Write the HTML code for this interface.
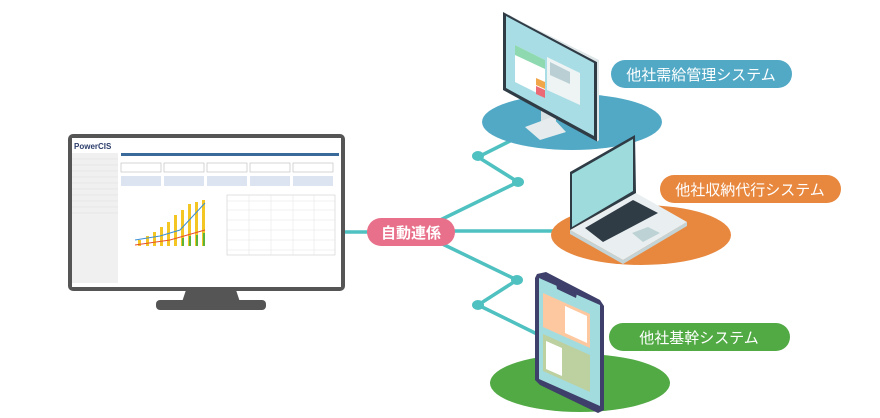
<!DOCTYPE html>
<html><head><meta charset="utf-8"><style>
html,body{margin:0;padding:0;background:#fff;width:880px;height:418px;overflow:hidden}
svg{display:block}
text{font-family:"Liberation Sans","Noto Sans CJK JP",sans-serif}
</style></head><body>
<svg width="880" height="418" viewBox="0 0 880 418" xmlns="http://www.w3.org/2000/svg">
<g stroke="#4fc1c0" stroke-width="3.5" fill="none" stroke-linecap="round">
<line x1="345" y1="232" x2="380" y2="232"/>
<polyline points="430,225 518,182 478,157 510,141"/>
<line x1="430" y1="231" x2="556" y2="231"/>
<polyline points="430,238 517,280 478,305 535,333"/>
</g>
<g fill="#4fc1c0">
<ellipse cx="518" cy="182" rx="6" ry="5"/><ellipse cx="478" cy="156" rx="6" ry="5"/>
<ellipse cx="517" cy="280" rx="6" ry="5"/><ellipse cx="478" cy="305" rx="6" ry="5"/>
</g>
<ellipse cx="572" cy="122" rx="90" ry="28" fill="#52a9c6"/>
<ellipse cx="641" cy="235" rx="90" ry="30" fill="#e8883f"/>
<ellipse cx="580" cy="383" rx="90" ry="29" fill="#52aa45"/>
<!-- right monitor -->
<polygon points="541,110 556,110 556,126 541,126" fill="#d7e2e4"/>
<polygon points="525,127 552,117 566,132 540,140" fill="#e6eced"/>
<polygon points="503,12 597,62 598,142 503,90" fill="#2f3b45"/>
<polygon points="506,14 599,60 599,140 597,142 597,62" fill="#dfe6e8"/>
<polygon points="506,16 594,63 594,136 506,88" fill="#a8dde5"/>
<polygon points="515,45 545,60 545,97 515,82" fill="#fff"/>
<polygon points="515,45 545,60 545,69 515,55" fill="#8ed9b0"/>
<polygon points="536,78 545,82 545,89 536,85" fill="#f2a64a"/>
<polygon points="536,86 545,90 545,98 536,94" fill="#ec6a75"/>
<polygon points="547,57 580,73 580,105 547,90" fill="#eef3f4"/>
<polygon points="550,62 570,72 570,84 550,75" fill="#b9cfd3"/>
<!-- laptop -->
<polygon points="570,230 636,193 687,222 623,260" fill="#e9eff0"/>
<polygon points="570,230 623,260 687,222 687,226 623,264 570,234" fill="#c4d3d6"/>
<polygon points="585,228 633,200 658,213 603,242" fill="#2f3b45"/>
<polygon points="632,233 648,227 660,233 643,242" fill="#bcd2d4"/>
<polygon points="570,172 635,135 636,193 570,230" fill="#2f3b45"/>
<polygon points="572,174 633,139 633,191 572,227" fill="#9ddbdc"/>
<!-- tablet -->
<polygon points="537,274 546,272 600,300 604,306 604,410 598,413 540,385 535,380 535,278" fill="#3e3f6a"/>
<polygon points="539,278 600,305 600,406 539,379" fill="#a3dcdf"/>
<polygon points="556,283 577,293 576,298 557,289" fill="#3e3f6a"/>
<polygon points="543,293 590,314 590,348 543,327" fill="#fdc89f"/>
<polygon points="565,306 587,316 587,343 565,333" fill="#fff"/>
<polygon points="543,334 590,355 590,392 543,371" fill="#bcd0a0"/>
<polygon points="546,341 562,348 562,376 546,369" fill="#fff"/>
<!-- pills -->
<rect x="611" y="60" width="181" height="28" rx="14" fill="#52a9c6"/>
<text x="701" y="80" font-size="15" fill="#fff" text-anchor="middle">他社需給管理システム</text>
<rect x="660" y="175" width="181" height="28" rx="14" fill="#e8883f"/>
<text x="750" y="195" font-size="15" fill="#fff" text-anchor="middle">他社収納代行システム</text>
<rect x="609" y="323" width="181" height="28" rx="14" fill="#52aa45"/>
<text x="699" y="343" font-size="15" fill="#fff" text-anchor="middle">他社基幹システム</text>
<rect x="367" y="218" width="88" height="28" rx="14" fill="#e8708a"/>
<text x="411" y="238" font-size="15" fill="#fff" text-anchor="middle" font-weight="bold">自動連係</text>
<!-- main monitor -->
<polygon points="186,290 236,290 240,302 182,302" fill="#555"/>
<rect x="156" y="300" width="110" height="10" rx="4" fill="#555"/>
<rect x="68" y="134" width="277" height="157" rx="5" fill="#555"/>
<rect x="72" y="138" width="269" height="149" fill="#fff"/>
<text x="74" y="149" font-size="8" font-weight="bold" fill="#2b3d6b">PowerCIS</text>
<rect x="72" y="153" width="46" height="130" fill="#f0f0f0"/>
<g stroke="#ddd" stroke-width="0.5"><line x1="72" y1="159" x2="118" y2="159"/><line x1="72" y1="165" x2="118" y2="165"/><line x1="72" y1="171" x2="118" y2="171"/><line x1="72" y1="177" x2="118" y2="177"/><line x1="72" y1="183" x2="118" y2="183"/><line x1="72" y1="189" x2="118" y2="189"/><line x1="72" y1="195" x2="118" y2="195"/><line x1="72" y1="201" x2="118" y2="201"/><line x1="72" y1="207" x2="118" y2="207"/><line x1="72" y1="213" x2="118" y2="213"/></g>
<rect x="121" y="153" width="218" height="3" fill="#3a6a9a"/>
<g fill="#fff" stroke="#bbb" stroke-width="0.6">
<rect x="121" y="163" width="40" height="9"/><rect x="164" y="163" width="40" height="9"/><rect x="207" y="163" width="40" height="9"/><rect x="250" y="163" width="40" height="9"/><rect x="293" y="163" width="40" height="9"/></g>
<g fill="#dbe4f0"><rect x="121" y="176" width="40" height="10"/><rect x="164" y="176" width="40" height="10"/><rect x="207" y="176" width="40" height="10"/><rect x="250" y="176" width="40" height="10"/><rect x="293" y="176" width="40" height="10"/></g>
<g fill="#f3c623"><rect x="138" y="240" width="3" height="6"/><rect x="146" y="236" width="3" height="10"/><rect x="153" y="232" width="3" height="14"/><rect x="160" y="227" width="3" height="19"/><rect x="167" y="222" width="3" height="24"/><rect x="174" y="215" width="3" height="31"/><rect x="181" y="210" width="3" height="36"/><rect x="188" y="204" width="3" height="42"/><rect x="195" y="202" width="3" height="44"/><rect x="202" y="200" width="3" height="46"/></g>
<g fill="#5bb33a"><rect x="182" y="238" width="2" height="8"/><rect x="189" y="236" width="2" height="10"/><rect x="196" y="235" width="2" height="11"/><rect x="203" y="233" width="2" height="13"/></g>
<polyline points="135,240 160,236 180,230 205,203" stroke="#3b8fd6" fill="none" stroke-width="1"/>
<polyline points="135,245 170,240 205,230" stroke="#e8502b" fill="none" stroke-width="1"/>
<rect x="227" y="195" width="108" height="60" fill="#fff" stroke="#ccc" stroke-width="0.6"/>
<g stroke="#ddd" stroke-width="0.4"><line x1="227" y1="201" x2="335" y2="201"/><line x1="227" y1="210" x2="335" y2="210"/><line x1="227" y1="220" x2="335" y2="220"/><line x1="227" y1="230" x2="335" y2="230"/><line x1="227" y1="240" x2="335" y2="240"/><line x1="227" y1="250" x2="335" y2="250"/><line x1="249" y1="195" x2="249" y2="255"/><line x1="271" y1="195" x2="271" y2="255"/><line x1="293" y1="195" x2="293" y2="255"/><line x1="314" y1="195" x2="314" y2="255"/></g>
</svg>
</body></html>
